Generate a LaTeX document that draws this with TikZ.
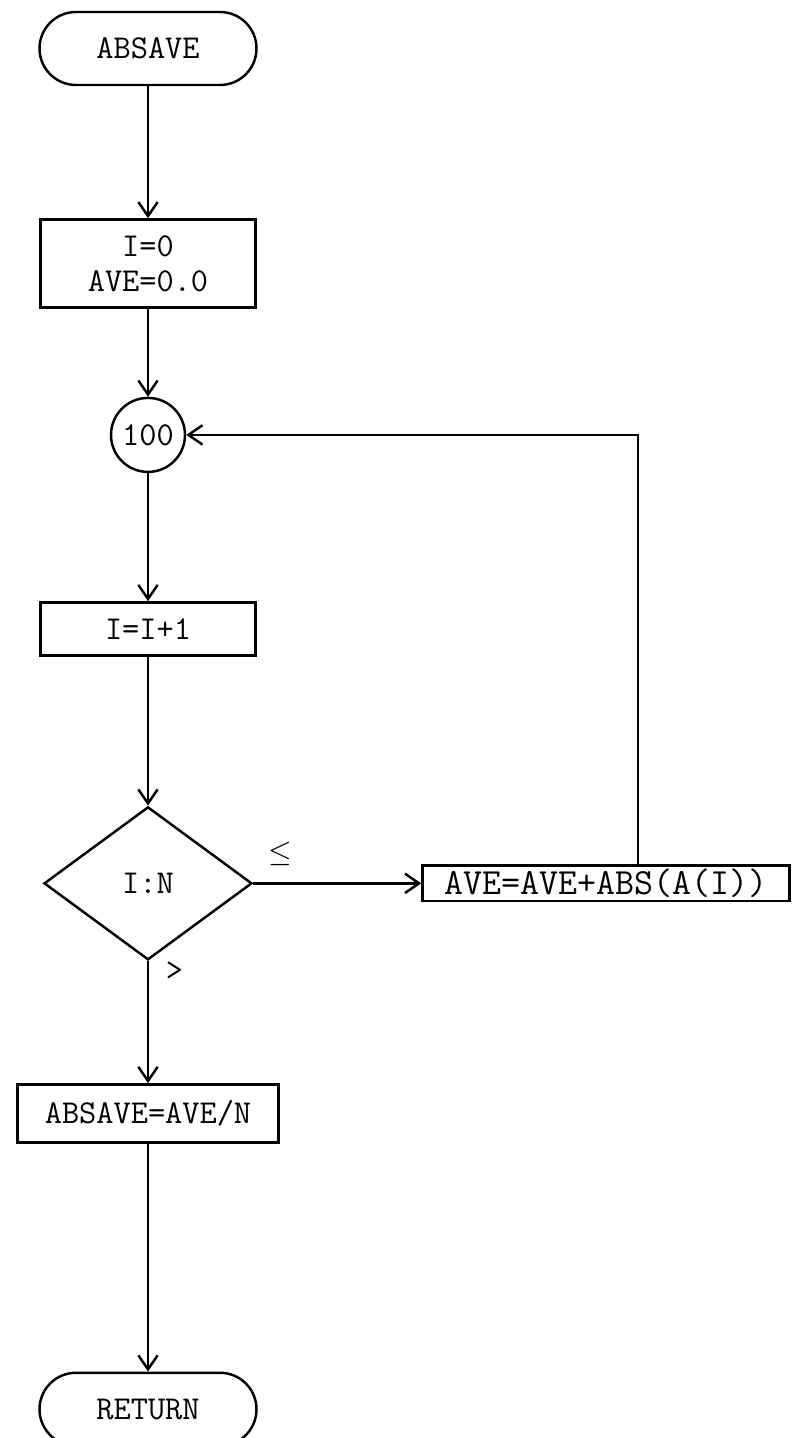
\documentclass[tikz,border=0pt]{standalone}
\usetikzlibrary{arrows.meta, positioning, shapes.geometric}
\newcommand{\flowfont}{\ttfamily\fontsize{19}{20}\selectfont}

\begin{document}
\begin{tikzpicture}[
    node distance=1cm and 1cm,
    term/.style={
        rectangle, rounded corners=0.73cm, draw, line width=1.4pt,
        minimum width=4.34cm, minimum height=1.46cm,
        text centered, font=\flowfont
    },
    proc/.style={
        rectangle, draw, line width=1.4pt,
        minimum width=4.3cm, align=center, font=\flowfont
    },
    conn/.style={
        circle, draw, line width=1.4pt, inner sep=0pt,
        minimum size=1.48cm, font=\flowfont
    },
    decision/.style={
        diamond, draw, line width=1.4pt, inner sep=0pt,
        minimum width=4.16cm, minimum height=3.06cm, font=\flowfont
    },
    lbl/.style={inner sep=0pt, font=\flowfont},
    arr/.style={-{Straight Barb[length=8pt, width=11pt]}, line width=1.4pt}
]

\useasboundingbox (0,0) rectangle (16.04,-28.76);

\node[term] (start) at (2.96,-0.97) {ABSAVE};

\node[proc, minimum height=1.76cm, below=2.64cm of start] (init)
    {I=0\\AVE=0.0};

\node[conn, below=1.76cm of init] (c100) {100};

\node[proc, minimum height=1.06cm, below=2.56cm of c100] (incr) {I=I+1};

\node[decision, below=2.98cm of incr] (test) {I:N};

\node[proc, minimum width=7.34cm, minimum height=0.68cm, inner sep=2pt,
      font=\ttfamily\fontsize{21}{22}\selectfont,
      right=3.36cm of test] (accum) {AVE=AVE+ABS(A(I))};

\node[proc, minimum width=5.22cm, minimum height=1.16cm,
      below=2.44cm of test] (result) {ABSAVE=AVE/N};

\node[term, below=4.56cm of result] (ret) {RETURN};

\node[lbl, above right=0.35cm and 0.3cm of test.east] (le) {$\leq$};
\node[lbl, below right=0.02cm and 0.35cm of test.south] (gt) {>};

\coordinate (loop) at ([xshift=4.34cm]accum.north west);

\draw[arr] (start)  -- (init);
\draw[arr] (init)   -- (c100);
\draw[arr] (c100)   -- (incr);
\draw[arr] (incr)   -- (test);
\draw[arr] (test)   -- (accum);
\draw[arr] (loop)   |- (c100);
\draw[arr] (test)   -- (result);
\draw[arr] (result) -- (ret);

\end{tikzpicture}
\end{document}
